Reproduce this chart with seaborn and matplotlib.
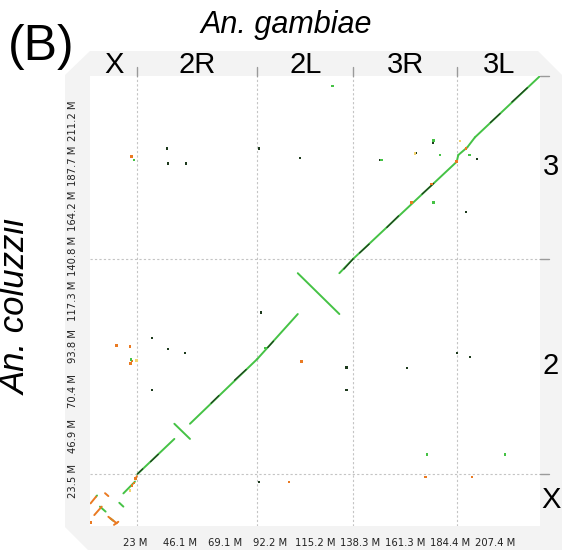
import numpy as np
import pandas as pd
import matplotlib
matplotlib.use("Agg")
import matplotlib.pyplot as plt
import matplotlib.transforms as mtransforms
from matplotlib.patches import Polygon
import seaborn as sns

# Genome sizes (M) and chromosome arm boundaries
x_max = 230.45
y_max = 234.6
x_bounds = [24.3, 85.7, 134.8, 188.1]
y_bounds = [27.1, 139.3]
x_arms = ['X', '2R', '2L', '3R', '3L']
x_arm_mid = [12.15, 55.0, 110.25, 161.45, 209.3]
y_chroms = ['X', '2', '3']
y_chrom_mid = [13.55, 83.2, 187.0]

x_tick_vals = [23.05, 46.09, 69.14, 92.18, 115.23, 138.27, 161.32, 184.36, 207.41]
x_tick_labels = ['23 M', '46.1 M', '69.1 M', '92.2 M', '115.2 M', '138.3 M', '161.3 M', '184.4 M', '207.4 M']
y_tick_vals = [23.46, 46.92, 70.38, 93.84, 117.3, 140.76, 164.22, 187.68, 211.14]
y_tick_labels = ['23.5 M', '46.9 M', '70.4 M', '93.8 M', '117.3 M', '140.8 M', '164.2 M', '187.7 M', '211.2 M']

# Alignment segments: start x, end x, start y, end y, kind
seg_x0 = [24.3, 43.2, 51.2, 85.7, 106.4, 127.7, 134.8, 187.8, 188.6, 193.2, 197.1,
          0.3, 3.1, 7.7, 2.2, 5.1, 9.4, 10.5, 15.0, 12.3, 17.1, 23.2]
seg_x1 = [43.2, 51.2, 85.7, 106.4, 127.7, 134.8, 187.8, 188.6, 193.2, 197.1, 230.45,
          3.1, 3.6, 9.4, 6.0, 8.0, 13.7, 12.0, 17.1, 14.5, 23.0, 24.0]
seg_y0 = [27.1, 53.3, 53.3, 87.1, 131.8, 131.8, 139.3, 189.9, 193.4, 197.4, 202.6,
          11.8, 15.3, 17.1, 5.7, 10.1, 4.8, 3.9, 12.1, 0.6, 17.0, 24.3]
seg_y1 = [45.4, 45.4, 87.1, 110.5, 110.5, 139.3, 189.9, 193.4, 197.4, 202.6, 234.6,
          15.3, 15.9, 15.6, 10.1, 7.5, 1.4, 2.7, 10.1, 2.2, 23.1, 26.0]
seg_kind = ['fwd'] * 11 + ['rev', 'fwd', 'rev', 'rev', 'fwd', 'rev', 'fwd', 'fwd', 'rev', 'fwd', 'rev']

# darker high-identity stretches on the main diagonal
dark_x0 = [24.3, 31.0, 62.0, 74.0, 91.0, 130.0, 138.0, 152.0, 170.0, 205.0, 216.0]
dark_x1 = [27.0, 35.0, 66.0, 80.0, 94.0, 134.8, 143.0, 158.0, 176.0, 210.0, 224.0]
dark_y0 = [27.1, 33.5, 64.0, 76.0, 93.0, 133.9, 142.3, 155.6, 173.0, 210.3, 221.0]
dark_y1 = [29.8, 37.4, 68.0, 81.6, 96.4, 139.3, 147.0, 161.7, 178.6, 215.0, 228.5]

# Scattered small hits
dot_x = [21.4, 22.5, 39.4, 40.0, 49.2, 86.5, 107.5, 124.0, 148.5, 167.0, 175.6, 179.2,
         192.5, 175.6, 198.2, 13.7, 20.5, 20.8, 21.5, 21.0, 23.9, 31.7, 40.0, 48.6, 31.7,
         87.6, 108.2, 131.5, 131.5, 162.3, 188.0, 194.6, 172.6, 212.5, 195.6, 172.0, 101.9,
         86.5, 175.0, 164.7, 187.8, 192.5, 189.5, 166.4, 175.8, 194.2, 175.8, 149.4,
         0.3, 21.5, 22.5, 23.4, 20.5, 90.0]
dot_y = [192.5, 190.8, 197.0, 189.0, 189.0, 197.0, 191.9, 229.4, 190.8, 194.5, 199.7, 193.4,
         163.7, 168.4, 191.3, 94.0, 93.5, 84.8, 86.0, 86.9, 86.2, 98.0, 92.3, 90.2, 70.9,
         111.4, 85.7, 82.5, 70.9, 82.4, 90.2, 88.1, 37.1, 37.1, 25.5, 25.5, 22.9,
         22.9, 178.3, 168.6, 189.9, 196.9, 200.7, 194.3, 200.9, 193.4, 168.6, 190.8,
         1.7, 21.2, 22.4, 24.8, 18.4, 92.8]
dot_kind = ['rev', 'fwd', 'dark', 'dark', 'dark', 'dark', 'dark', 'fwd', 'dark', 'dark', 'dark', 'fwd',
            'dark', 'dark', 'dark', 'rev', 'rev', 'rev', 'rev', 'fwd', 'weak', 'dark', 'dark', 'dark', 'dark',
            'dark', 'rev', 'dark', 'dark', 'dark', 'dark', 'dark', 'fwd', 'fwd', 'rev', 'rev', 'rev',
            'dark', 'rev', 'rev', 'rev', 'rev', 'weak', 'weak', 'fwd', 'fwd', 'fwd', 'fwd',
            'rev', 'rev', 'rev', 'rev', 'weak', 'fwd']

colors = {'fwd': '#45c245', 'rev': '#ea7a22', 'dark': '#1d3a1d', 'weak': '#f4d470'}

def seg_frame(x0, x1, y0, y1, kind):
    rows = []
    for i in range(len(x0)):
        rows.append({'seg': i, 'x': x0[i], 'y': y0[i], 'kind': kind[i]})
        rows.append({'seg': i, 'x': x1[i], 'y': y1[i], 'kind': kind[i]})
    return pd.DataFrame(rows)

segs = seg_frame(seg_x0, seg_x1, seg_y0, seg_y1, seg_kind)
darks = seg_frame(dark_x0, dark_x1, dark_y0, dark_y1, ['dark'] * len(dark_x0))
dots = pd.DataFrame({'x': dot_x, 'y': dot_y, 'kind': dot_kind})

sns.set_style('white')
plt.rcParams['font.family'] = ['Liberation Sans', 'DejaVu Sans']
plt.rcParams['text.color'] = 'black'

W, H = 562, 550
fig = plt.figure(figsize=(W / 100, H / 100), dpi=100)
fig.patch.set_facecolor('white')

# light gray frame with cut corners (pixel coords from top-left)
frame_px = [(65, 75), (90, 51), (538, 51), (562, 75), (562, 550), (88, 550), (65, 527)]
frame = Polygon([(px / W, 1 - py / H) for px, py in frame_px], closed=True,
                transform=fig.transFigure, facecolor='#f3f3f3', edgecolor='none', zorder=-5)
fig.patches.append(frame)

ax = fig.add_axes([90 / W, 24 / H, 450 / W, 450 / H])
ax.set_zorder(2)
ax.set_facecolor('white')
ax.set_xlim(0, x_max)
ax.set_ylim(0, y_max)
for s in ax.spines.values():
    s.set_visible(False)

for xb in x_bounds:
    ax.axvline(xb, color='#c4c4c4', lw=0.8, ls=(0, (2, 2)), zorder=1)
for yb in y_bounds:
    ax.axhline(yb, color='#c4c4c4', lw=0.8, ls=(0, (2, 2)), zorder=1)

sns.lineplot(data=segs, x='x', y='y', units='seg', estimator=None, sort=False,
             hue='kind', palette=colors, lw=1.4, legend=False, ax=ax, zorder=3)
sns.lineplot(data=darks, x='x', y='y', units='seg', estimator=None, sort=False,
             hue='kind', palette=colors, lw=0.9, legend=False, ax=ax, zorder=4)
sns.scatterplot(data=dots, x='x', y='y', hue='kind', palette=colors, s=4,
                linewidth=0, marker='s', legend=False, ax=ax, zorder=5)

# narrow face for the tick labels
narrow = ['Liberation Sans Narrow', 'DejaVu Sans']
ax.set_xticks(x_tick_vals)
ax.set_xticklabels(x_tick_labels, family=narrow, stretch='condensed', fontsize=8, color='#222222')
ax.set_yticks(y_tick_vals)
ax.set_yticklabels(y_tick_labels, family=narrow, stretch='condensed', fontsize=8, color='#222222',
                   rotation=90, va='center')
ax.tick_params(axis='both', direction='out', length=7, width=1, color='#9a9a9a', pad=2)
ax.set_xlabel('')
ax.set_ylabel('')

# arm ticks on top and right edges
top_tr = mtransforms.blended_transform_factory(ax.transData, ax.transAxes)
for xb in x_bounds:
    ax.plot([xb, xb], [1.0, 1.02], color='#9a9a9a', lw=1, transform=top_tr, clip_on=False)
right_tr = mtransforms.blended_transform_factory(ax.transAxes, ax.transData)
for yb in y_bounds + [y_max]:
    ax.plot([1.0, 1.02], [yb, yb], color='#9a9a9a', lw=1, transform=right_tr, clip_on=False)

for name, xm in zip(x_arms, x_arm_mid):
    ax.text(xm, 1.025, name, transform=top_tr, ha='center', va='center', fontsize=21)
for name, ym in zip(y_chroms, y_chrom_mid):
    ax.text(1.024, ym, name, transform=right_tr, ha='center', va='center', fontsize=21)

fig.text(286 / W, 1 - 25 / H, 'An. gambiae', ha='center', va='center',
         fontsize=22, style='italic')
fig.text(16 / W, 1 - 307 / H, 'An. coluzzii', ha='center', va='center',
         fontsize=25, style='italic', rotation=90)
fig.text(41 / W, 1 - 47 / H, '(B)', ha='center', va='center', fontsize=36)

fig.savefig('out.png', dpi=100)
